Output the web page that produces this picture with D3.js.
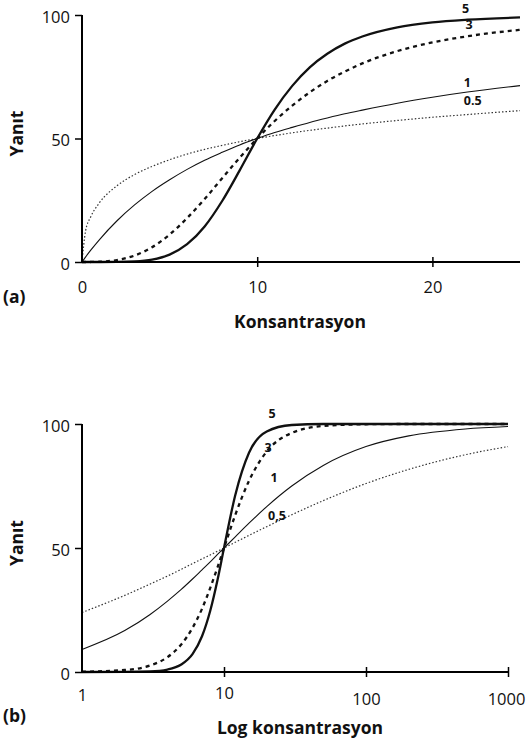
<!DOCTYPE html>
<html>
  <head>
      <script src="https://cdnjs.cloudflare.com/ajax/libs/d3/7.8.5/d3.min.js"></script>
<style>
  body { margin: 0; background: #fff; }
  text { font-family: "Open Sans", sans-serif; fill: #111; }
  .tick-label { font-size: 16.5px; }
  .title { font-size: 17.5px; font-weight: bold; }
  .curve-label { font-size: 12.5px; font-weight: bold; }
</style>
  </head>
  <body>
      <div id="vis"></div>
      <script type="text/javascript">

          const w = 526;
          const h = 740;

          // panel (a): linear concentration
          const concA = [0, 0.2, 0.5, 1, 2, 3, 4, 5, 6, 7, 8, 9, 10, 11, 12, 13, 14, 15, 16, 18, 20, 22, 25];
          const respA05 = [0, 12.4, 18.3, 24.0, 30.9, 35.4, 38.7, 41.4, 43.7, 45.6, 47.2, 48.7, 50, 51.2, 52.3, 53.3, 54.2, 55.1, 55.9, 57.3, 58.6, 59.7, 61.3];
          const respA1 = [0, 2.0, 4.8, 9.1, 16.7, 23.1, 28.6, 33.3, 37.5, 41.2, 44.4, 47.4, 50, 52.4, 54.5, 56.5, 58.3, 60, 61.5, 64.3, 66.7, 68.8, 71.4];
          const respA3 = [0, 0, 0.01, 0.1, 0.8, 2.6, 6.0, 11.1, 17.8, 25.5, 33.9, 42.2, 50, 57.1, 63.3, 68.7, 73.3, 77.1, 80.4, 85.4, 88.9, 91.4, 94.0];
          const respA5 = [0, 0, 0, 0, 0.03, 0.24, 1.0, 3.0, 7.2, 14.4, 24.7, 37.1, 50, 61.7, 71.3, 78.8, 84.3, 88.4, 91.3, 95.0, 97.0, 98.1, 99.0];
          const xTicksA = [0, 10, 20];

          // panel (b): log concentration
          const concB = [1, 2, 3, 4, 5, 6, 7, 8, 9, 10, 12, 15, 20, 30, 50, 100, 200, 500, 1000];
          const respB05 = [24.0, 30.9, 35.4, 38.7, 41.4, 43.7, 45.6, 47.2, 48.7, 50, 52.3, 55.1, 58.6, 63.4, 69.1, 76.0, 81.7, 87.6, 90.9];
          const respB1 = [9.1, 16.7, 23.1, 28.6, 33.3, 37.5, 41.2, 44.4, 47.4, 50, 54.5, 60, 66.7, 75, 83.3, 90.9, 95.2, 98.0, 99.0];
          const respB3 = [0.1, 0.8, 2.6, 6.0, 11.1, 17.8, 25.5, 33.9, 42.2, 50, 63.3, 77.1, 88.9, 96.4, 99.2, 99.9, 100, 100, 100];
          const respB5 = [0, 0.03, 0.24, 1.0, 3.0, 7.2, 14.4, 24.7, 37.1, 50, 71.3, 88.4, 97.0, 99.6, 100, 100, 100, 100, 100];
          const xTicksB = [1, 10, 100, 1000];

          const yTicks = [0, 50, 100];
          const slopes = ["0.5", "1", "3", "5"];

          const styles = {
              "0.5": {width: 1.2, dash: "1.5,2", color: "#333"},
              "1": {width: 1.1, dash: null, color: "#111"},
              "3": {width: 2.3, dash: "4,4", color: "#111"},
              "5": {width: 2.3, dash: null, color: "#111"}
          };

          const svg = d3.select("#vis")
              .append("svg")
              .attr("width", w)
              .attr("height", h);

          function drawPanel(p) {
              const g = svg.append("g");
              const xScale = p.xScale;
              const yScale = d3.scaleLinear().domain([0, 100]).range(p.yRange);

              // curves
              const line = d3.line()
                  .x(d => xScale(d[0]))
                  .y(d => yScale(d[1]))
                  .curve(d3.curveMonotoneX);
              p.series.forEach((vals, i) => {
                  const s = styles[slopes[i]];
                  g.append("path")
                      .datum(p.conc.map((c, j) => [c, vals[j]]))
                      .attr("fill", "none")
                      .attr("stroke", s.color)
                      .attr("stroke-width", s.width)
                      .attr("stroke-dasharray", s.dash)
                      .attr("d", line);
              });

              // axes
              const yAxis = d3.axisLeft(yScale).tickValues(yTicks).tickSize(7).tickPadding(5);
              const xAxis = d3.axisBottom(xScale).tickValues(p.xTicks).tickSize(5).tickPadding(p.xPad)
                  .tickFormat(d3.format("d"));
              const gy = g.append("g")
                  .attr("transform", "translate(" + xScale.range()[0] + ",0)")
                  .call(yAxis);
              const gx = g.append("g")
                  .attr("transform", "translate(0," + yScale(0) + ")")
                  .call(xAxis);
              [gx, gy].forEach(a => {
                  a.select(".domain").attr("stroke", "#000").attr("stroke-width", 2);
                  a.selectAll(".tick line").attr("stroke", "#000").attr("stroke-width", 1.5);
                  a.selectAll(".tick text").attr("class", "tick-label")
                      .attr("font-size", null).attr("font-family", null);
              });
              gx.select(".domain").attr("d", "M" + xScale.range()[0] + ",0H" + xScale.range()[1]);
              gy.select(".domain").attr("d", "M0," + yScale.range()[0] + "V" + yScale.range()[1]);
              gy.selectAll(".tick text").attr("dy", "0.45em");
              gx.selectAll(".tick line").attr("y1", -5);
              gx.selectAll(".tick").filter(d => d === p.xTicks[0]).select("line").remove();
              gx.selectAll(".tick text")
                  .attr("dy", d => (p.xShift[d] || 0) + 12.5)
                  .attr("dx", d => p.xNudge[d] || 0);

              // curve labels
              p.labels.forEach(l => {
                  g.append("text")
                      .attr("class", "curve-label")
                      .attr("x", xScale(l.x))
                      .attr("y", yScale(l.y))
                      .attr("text-anchor", "middle")
                      .text(l.text);
              });

              // titles
              g.append("text")
                  .attr("class", "title")
                  .attr("transform", "translate(" + 17 + "," + (yScale(50) - 5) + ") rotate(-90)")
                  .attr("text-anchor", "middle")
                  .attr("dy", "0.35em")
                  .text("Yanıt");
              g.append("text")
                  .attr("class", "title")
                  .attr("x", p.titleX)
                  .attr("y", yScale(0) + p.titleGap)
                  .attr("text-anchor", "middle")
                  .text(p.title);
              g.append("text")
                  .attr("class", "title")
                  .attr("x", 3)
                  .attr("y", yScale(0) + p.tagGap)
                  .text(p.tag);
          }

          drawPanel({
              xScale: d3.scaleLinear().domain([0, 25]).range([82, 520]),
              yRange: [262, 15],
              conc: concA,
              series: [respA05, respA1, respA3, respA5],
              xTicks: xTicksA,
              xPad: 13,
              xShift: {},
              xNudge: {},
              labels: [
                  {x: 21.9, y: 101, text: "5"},
                  {x: 22.1, y: 94.3, text: "3"},
                  {x: 22.0, y: 71, text: "1"},
                  {x: 22.3, y: 63.6, text: "0.5"}
              ],
              title: "Konsantrasyon",
              titleX: 300,
              titleGap: 66,
              tag: "(a)",
              tagGap: 41
          });

          drawPanel({
              xScale: d3.scaleLog().domain([1, 1000]).range([82, 508]),
              yRange: [672, 424],
              conc: concB,
              series: [respB05, respB1, respB3, respB5],
              xTicks: xTicksB,
              xPad: 11,
              xShift: {10: -2, 100: 4, 1000: 4},
              xNudge: {1000: -2},
              labels: [
                  {x: 21.8, y: 102.4, text: "5"},
                  {x: 20.4, y: 88.7, text: "3"},
                  {x: 22.5, y: 76.6, text: "1"},
                  {x: 23.6, y: 61.3, text: "0,5"}
              ],
              title: "Log konsantrasyon",
              titleX: 300,
              titleGap: 62,
              tag: "(b)",
              tagGap: 50
          });

      </script>
  </body>
</html>
